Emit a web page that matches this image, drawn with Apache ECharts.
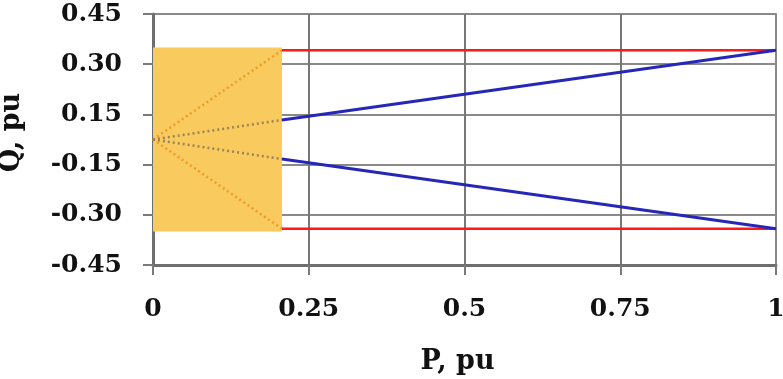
<!DOCTYPE html>
<html>
<head>
<meta charset="utf-8">
<script src="https://cdn.jsdelivr.net/npm/echarts@6/dist/echarts.min.js"></script>
<style>
html,body{margin:0;padding:0;background:#fff;}
#c{width:783px;height:379px;}
</style>
</head>
<body>
<div id="c"></div>
<script>
// Tick labels as printed on the chart
const xTickLabels = ['0', '0.25', '0.5', '0.75', '1'];
const yTickLabels = ['-0.45', '-0.30', '-0.15', '0.15', '0.30', '0.45'];

// Shaded (yellow) region: P from 0 to pMin, Q within +/- shadeQ
const shadeP = [0, 0.207];
const shadeQ = [-0.33, 0.33];

// Red: constant reactive limits
const redUpper = [[0.207, 0.32], [1, 0.32]];
const redLower = [[0.207, -0.32], [1, -0.32]];
// Blue: power-factor limits
const blueUpper = [[0.207, 0.07], [1, 0.32]];
const blueLower = [[0.207, -0.07], [1, -0.32]];
// Dotted extensions inside the shaded region
const orangeDotUpper = [[0, 0], [0.207, 0.32]];
const orangeDotLower = [[0, 0], [0.207, -0.32]];
const greyDotUpper = [[0, 0], [0.207, 0.07]];
const greyDotLower = [[0, 0], [0.207, -0.07]];

const FONT = 'DejaVu Serif';
const FS = 25;
const chart = echarts.init(document.getElementById('c'), null, {renderer: 'canvas'});

function line(data, color, width, type) {
  return {
    type: 'line', data: data, symbol: 'none', silent: true, animation: false,
    lineStyle: {color: color, width: width, type: type || 'solid'}
  };
}

const series = [
  {
    type: 'line', data: [], symbol: 'none', animation: false,
    markArea: {
      silent: true,
      itemStyle: {color: '#F9CB5E', opacity: 1},
      data: [[{coord: [shadeP[0], shadeQ[1]]}, {coord: [shadeP[1], shadeQ[0]]}]]
    }
  },
  line(orangeDotUpper, '#EE9A2A', 2.5, [2, 3]),
  line(orangeDotLower, '#EE9A2A', 2.5, [2, 3]),
  line(greyDotUpper, '#9A8456', 2.5, [2, 3]),
  line(greyDotLower, '#9A8456', 2.5, [2, 3]),
  line(redUpper, '#FF1A1A', 2.5),
  line(redLower, '#FF1A1A', 2.5),
  line(blueUpper, '#2626B8', 3),
  line(blueLower, '#2626B8', 3)
];

const labelStyle = {fontFamily: FONT, fontWeight: 'bold', fontSize: FS, color: '#111'};
const nameBase = {fontFamily: FONT, fontWeight: 'bold', fontSize: 27, color: '#111', verticalAlign: 'middle'};

chart.setOption({
  animation: false,
  backgroundColor: '#ffffff',
  grid: {left: 153, right: 7, top: 14, bottom: 114, containLabel: false, outerBoundsMode: 'none'},
  xAxis: {
    type: 'value', min: 0, max: 1, interval: 0.25,
    name: 'P, pu', nameLocation: 'middle', nameGap: 97,
    nameTextStyle: Object.assign({padding: [0, 14, 0, 0]}, nameBase),
    axisLine: {show: true, onZero: false, lineStyle: {color: '#6e6e6e', width: 3}},
    axisTick: {show: true, inside: false, length: 10, lineStyle: {color: '#7a7a7a', width: 2}},
    axisLabel: Object.assign({
      margin: 32, hideOverlap: false,
      formatter: function (v) { return xTickLabels[Math.round(v / 0.25)]; }
    }, labelStyle),
    splitLine: {show: true, lineStyle: {color: '#777777', width: 2}}
  },
  yAxis: [{
    type: 'value', min: -0.45, max: 0.45, interval: 0.18,
    name: 'Q, pu', nameLocation: 'middle', nameGap: 141, nameRotate: 90,
    nameTextStyle: Object.assign({padding: [0, 0, 0, 14]}, nameBase),
    axisLine: {show: true, onZero: false, lineStyle: {color: '#6e6e6e', width: 3}},
    axisTick: {show: true, inside: false, length: 10, lineStyle: {color: '#7a7a7a', width: 2}},
    axisLabel: Object.assign({
      margin: 31, hideOverlap: false,
      formatter: function (v) { return yTickLabels[Math.round((v + 0.45) / 0.18)]; }
    }, labelStyle),
    splitLine: {show: true, lineStyle: {color: '#8a8a8a', width: 2}}
  }, {
    type: 'value', position: 'right', min: -0.45, max: 0.45, interval: 0.18,
    axisLine: {show: true, onZero: false, lineStyle: {color: '#8a8a8a', width: 2}},
    axisTick: {show: false}, axisLabel: {show: false}, splitLine: {show: false}
  }],
  series: series
});
</script>
</body>
</html>
